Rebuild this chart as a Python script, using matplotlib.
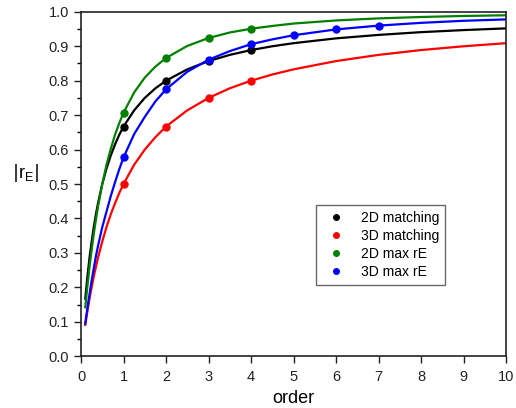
import numpy as np
import matplotlib
matplotlib.use('Agg')
import matplotlib.pyplot as plt
from matplotlib.lines import Line2D

plt.rcParams['font.family'] = ['Liberation Sans', 'DejaVu Sans']

# continuous curves, values
curve_x = [0.1, 0.15, 0.2, 0.25, 0.3, 0.35, 0.4, 0.5, 0.6, 0.7, 0.8, 0.9, 1, 1.25, 1.5, 1.75,
           2, 2.5, 3, 3.5, 4, 4.5, 5, 6, 7, 8, 9, 10]
curve_2d_match = [0.167, 0.231, 0.286, 0.333, 0.375, 0.412, 0.444, 0.5, 0.545, 0.583, 0.615, 0.643,
                  0.667, 0.714, 0.75, 0.778, 0.8, 0.833, 0.857, 0.875, 0.889, 0.9, 0.909,
                  0.923, 0.933, 0.941, 0.947, 0.952]
curve_3d_match = [0.091, 0.130, 0.167, 0.2, 0.231, 0.259, 0.286, 0.333, 0.375, 0.412, 0.444, 0.474,
                  0.5, 0.556, 0.6, 0.636, 0.667, 0.714, 0.75, 0.778, 0.8, 0.818, 0.833,
                  0.857, 0.875, 0.889, 0.9, 0.909]
curve_2d_max = [0.142, 0.203, 0.259, 0.309, 0.355, 0.396, 0.434, 0.5, 0.556, 0.602, 0.643, 0.677,
                0.707, 0.766, 0.809, 0.841, 0.866, 0.901, 0.924, 0.940, 0.951, 0.959, 0.966,
                0.975, 0.981, 0.985, 0.988, 0.990]
curve_3d_max = [0.095, 0.14, 0.18, 0.22, 0.255, 0.29, 0.32, 0.375, 0.42, 0.465, 0.505, 0.543,
                0.577, 0.645, 0.695, 0.74, 0.775, 0.826, 0.861, 0.886, 0.906, 0.92, 0.932,
                0.949, 0.960, 0.968, 0.974, 0.978]

# integer-order points
pts_x4 = [1, 2, 3, 4]
pts_2d_match = [0.667, 0.8, 0.857, 0.889]
pts_3d_match = [0.5, 0.667, 0.75, 0.8]
pts_2d_max = [0.707, 0.866, 0.924, 0.951]
pts_x7 = [1, 2, 3, 4, 5, 6, 7]
pts_3d_max = [0.577, 0.775, 0.861, 0.906, 0.932, 0.949, 0.960]

labels = ['2D matching', '3D matching', '2D max rE', '3D max rE']
colors = ['black', 'red', 'green', 'blue']

fig = plt.figure(figsize=(5.16, 4.08), dpi=100, facecolor='white')
ax = fig.add_axes([0.157, 0.127, 0.824, 0.844])

curves = [curve_2d_match, curve_3d_match, curve_2d_max, curve_3d_max]
points = [(pts_x4, pts_2d_match), (pts_x4, pts_3d_match), (pts_x4, pts_2d_max), (pts_x7, pts_3d_max)]
for cy, (px, py), c in zip(curves, points, colors):
    ax.plot(curve_x, cy, color=c, lw=1.6, solid_joinstyle='round')
    ax.plot(px, py, 'o', color=c, ms=5)

ax.set_xlim(0, 10)
ax.set_ylim(0, 1.0)
ax.set_xticks(range(0, 11))
ax.set_yticks(np.arange(0, 1.01, 0.1))
ax.set_yticks(np.arange(0.05, 1.0, 0.1), minor=True)
ax.set_yticklabels([f'{v:.1f}' for v in np.arange(0, 1.01, 0.1)])
ax.tick_params(axis='both', direction='out', length=5, width=1, labelsize=10.5, colors='#222222')
ax.tick_params(axis='x', pad=5)
ax.tick_params(axis='y', which='minor', direction='out', length=3, width=1)
for s in ax.spines.values():
    s.set_linewidth(1.2)
    s.set_color('#222222')

ax.set_xlabel('order', fontsize=13)
ax.set_ylabel(r'$|\mathregular{r_E}|$', fontsize=13, rotation=0, labelpad=18)
ax.yaxis.set_label_coords(-0.13, 0.5)

handles = [Line2D([], [], marker='o', ls='none', color=c, ms=4) for c in colors]
leg = ax.legend(handles, labels, loc='upper left', bbox_to_anchor=(0.553, 0.439),
                borderaxespad=0, fontsize=10, frameon=True, fancybox=False, edgecolor='#444444',
                handletextpad=0.8, borderpad=0.4, labelspacing=0.3)
leg.get_frame().set_linewidth(1.0)

fig.savefig('out.png', dpi=100, facecolor='white')
